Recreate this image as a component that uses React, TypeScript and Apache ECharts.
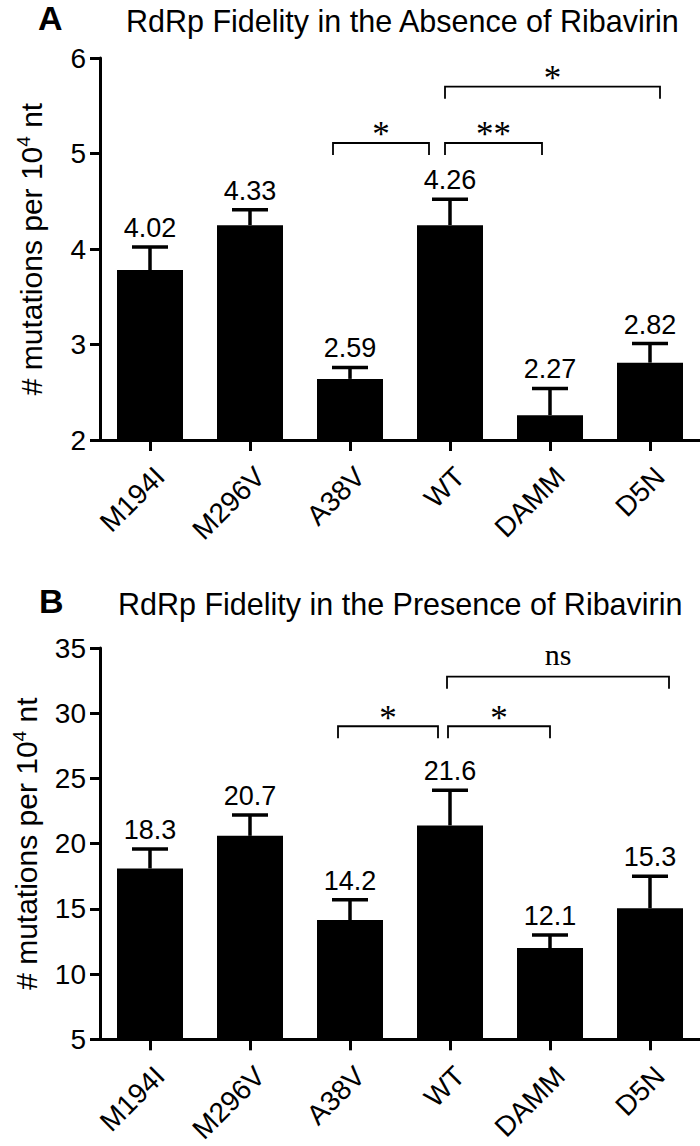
import React, { useEffect, useRef } from 'react';
import * as echarts from 'echarts';

const categories = ['M194I', 'M296V', 'A38V', 'WT', 'DAMM', 'D5N'];

// Panel A: absence of ribavirin
const meansA = [3.78, 4.25, 2.64, 4.25, 2.26, 2.81];
const semA = [0.24, 0.16, 0.12, 0.27, 0.28, 0.2];
const labelsA = ['4.02', '4.33', '2.59', '4.26', '2.27', '2.82'];
const yMinA = 2;
const yMaxA = 6;
const yStepA = 1;
// [from category (fractional), to category, y level, text]
const bracketsA: [number, number, number, string][] = [
  [1.83, 2.79, 5.11, '*'],
  [2.95, 3.92, 5.11, '**'],
  [2.95, 5.1, 5.7, '*'],
];

// Panel B: presence of ribavirin
const meansB = [18.1, 20.6, 14.15, 21.4, 12.0, 15.05];
const semB = [1.5, 1.6, 1.55, 2.7, 1.0, 2.45];
const labelsB = ['18.3', '20.7', '14.2', '21.6', '12.1', '15.3'];
const yMinB = 5;
const yMaxB = 35;
const yStepB = 5;
const bracketsB: [number, number, number, string][] = [
  [1.88, 2.88, 29.0, '*'],
  [2.98, 4.0, 29.0, '*'],
  [2.97, 5.19, 32.8, 'ns'],
];

const titleA = 'RdRp Fidelity in the Absence of Ribavirin';
const titleB = 'RdRp Fidelity in the Presence of Ribavirin';
const yName = '# mutations per 10{sup|4} nt';

const SANS = '"Liberation Sans", Arial, Helvetica, sans-serif';
const SERIF = '"Liberation Serif", "Times New Roman", serif';

function errorSeries(idx: number, means: number[], sems: number[], labels: string[]) {
  return {
    type: 'custom',
    xAxisIndex: idx,
    yAxisIndex: idx,
    z: 5,
    data: means.map((m, i) => [i, m, sems[i]]),
    renderItem: (params: any, api: any) => {
      const i = api.value(0);
      const m = api.value(1);
      const e = api.value(2);
      const base = api.coord([i, m]);
      const top = api.coord([i, m + e]);
      return {
        type: 'group',
        children: [
          { type: 'line', shape: { x1: base[0], y1: base[1], x2: top[0], y2: top[1] }, style: { stroke: '#000', lineWidth: 3.5 } },
          { type: 'line', shape: { x1: top[0] - 18, y1: top[1], x2: top[0] + 18, y2: top[1] }, style: { stroke: '#000', lineWidth: 3.5 } },
          {
            type: 'text',
            x: top[0],
            y: top[1] - 19,
            style: { text: labels[params.dataIndex], fill: '#000', fontSize: 27, fontFamily: SANS, align: 'center', verticalAlign: 'middle' },
          },
        ],
      };
    },
  };
}

function bracketSeries(idx: number, brackets: [number, number, number, string][]) {
  return {
    type: 'custom',
    xAxisIndex: idx,
    yAxisIndex: idx,
    z: 6,
    data: brackets.map((b) => [b[0], b[1], b[2]]),
    renderItem: (params: any, api: any) => {
      const b = brackets[params.dataIndex];
      const band = api.size([1, 0])[0];
      const px = (v: number) => {
        const base = Math.floor(v);
        return api.coord([base, b[2]])[0] + (v - base) * band;
      };
      const y = api.coord([0, b[2]])[1];
      const x1 = px(b[0]);
      const x2 = px(b[1]);
      const drop = 12;
      const isNs = b[3] === 'ns';
      return {
        type: 'group',
        children: [
          {
            type: 'polyline',
            shape: { points: [[x1, y + drop], [x1, y], [x2, y], [x2, y + drop]] },
            style: { stroke: '#000', lineWidth: 1.8, fill: 'none' },
          },
          {
            type: 'text',
            x: (x1 + x2) / 2,
            y: isNs ? y - 22 : y - 8,
            style: { text: b[3], fill: '#000', fontSize: isNs ? 30 : 35, fontFamily: SERIF, align: 'center', verticalAlign: 'middle' },
          },
        ],
      };
    },
  };
}

function yAxisCfg(idx: number, min: number, max: number, step: number) {
  return {
    type: 'value',
    gridIndex: idx,
    min,
    max,
    interval: step,
    splitLine: { show: false },
    axisLine: { show: true, lineStyle: { color: '#000', width: 3 } },
    axisTick: { show: true, length: 10, lineStyle: { color: '#000', width: 3 } },
    axisLabel: { color: '#000', fontSize: 28, fontFamily: SANS, margin: 14 },
    name: yName,
    nameLocation: 'middle',
    nameGap: 52,
    nameTextStyle: {
      color: '#000',
      fontSize: 30,
      fontFamily: SANS,
      lineHeight: 34,
      rich: {
        sup: { fontSize: 19, fontFamily: SANS, color: '#000', lineHeight: 20, verticalAlign: 'top' },
      },
    },
  };
}

function xAxisCfg(idx: number) {
  return {
    type: 'category',
    gridIndex: idx,
    data: categories,
    axisLine: { show: true, lineStyle: { color: '#000', width: 3 } },
    axisTick: { show: true, alignWithLabel: true, length: 11, lineStyle: { color: '#000', width: 3 } },
    axisLabel: { color: '#000', fontSize: 28, fontFamily: SANS, rotate: 45, margin: 22, interval: 0, verticalAlign: 'top' },
  };
}

export default function App() {
  const ref = useRef<HTMLDivElement>(null);
  useEffect(() => {
    document.body.style.margin = '0';
    if (!ref.current) return;
    const chart = echarts.init(ref.current, undefined, { renderer: 'svg' });
    chart.setOption({
      animation: false,
      backgroundColor: '#fff',
      grid: [
        { left: 100, top: 58, width: 600, height: 382 },
        { left: 100, top: 648, width: 600, height: 397 },
      ],
      xAxis: [xAxisCfg(0), xAxisCfg(1)],
      yAxis: [yAxisCfg(0, yMinA, yMaxA, yStepA), yAxisCfg(1, yMinB, yMaxB, yStepB)],
      series: [
        { type: 'bar', xAxisIndex: 0, yAxisIndex: 0, data: meansA, barWidth: '66%', itemStyle: { color: '#000' }, z: 2 },
        { type: 'bar', xAxisIndex: 1, yAxisIndex: 1, data: meansB, barWidth: '66%', itemStyle: { color: '#000' }, z: 2 },
        errorSeries(0, meansA, semA, labelsA),
        errorSeries(1, meansB, semB, labelsB),
        bracketSeries(0, bracketsA),
        bracketSeries(1, bracketsB),
      ],
      graphic: [
        { type: 'text', left: 38, top: 1, style: { text: 'A', fontSize: 34, fontWeight: 'bold', fontFamily: SANS, fill: '#000' } },
        { type: 'text', left: 126, top: 5, style: { text: titleA, fontSize: 30.5, fontFamily: SANS, fill: '#000' } },
        { type: 'text', left: 39, top: 584, style: { text: 'B', fontSize: 34, fontWeight: 'bold', fontFamily: SANS, fill: '#000' } },
        { type: 'text', left: 118, top: 588, style: { text: titleB, fontSize: 30.5, fontFamily: SANS, fill: '#000' } },
      ],
    });
    return () => chart.dispose();
  }, []);
  return <div ref={ref} style={{ width: 700, height: 1146 }} />;
}
